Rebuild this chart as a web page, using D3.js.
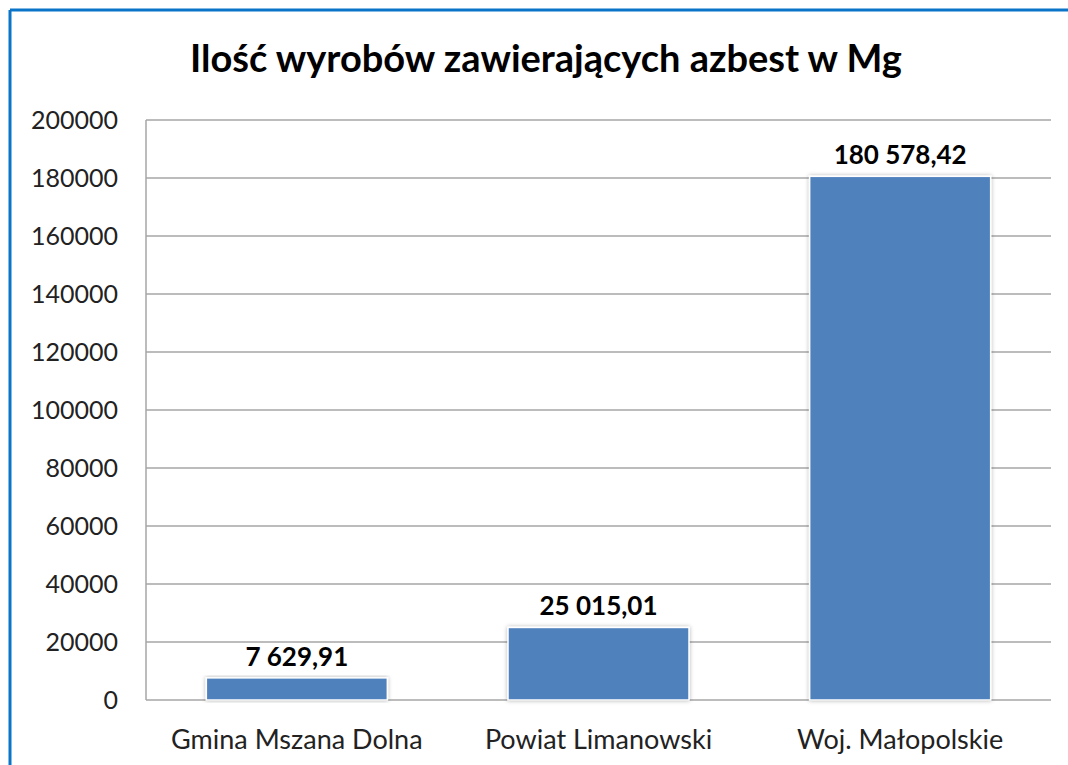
<!DOCTYPE html>
<html>
<head>
<meta charset="utf-8">
<script src="https://cdn.jsdelivr.net/npm/d3@7"></script>
<style>
  body { margin: 0; background: #fff; }
  svg { display: block; }
</style>
</head>
<body>
<div id="container"></div>
<script>
var categories = ["Gmina Mszana Dolna", "Powiat Limanowski", "Woj. Małopolskie"];
var values = [7629.91, 25015.01, 180578.42];
var yTicks = [0, 20000, 40000, 60000, 80000, 100000, 120000, 140000, 160000, 180000, 200000];
var title = "Ilość wyrobów zawierających azbest w Mg";

var W = 1068, H = 765;
var plotLeft = 146, plotRight = 1051, plotTop = 120, plotBottom = 700;
var font = "Lato, 'Open Sans', sans-serif";

var pl = d3.formatLocale({decimal: ",", thousands: " ", grouping: [3], currency: ["", ""]});
var fmt = pl.format(",.2f");

var svg = d3.select("#container").append("svg")
  .attr("width", W)
  .attr("height", H);

var defs = svg.append("defs");
var f = defs.append("filter").attr("id", "shadow")
  .attr("x", "-10%").attr("y", "-10%").attr("width", "120%").attr("height", "120%");
f.append("feDropShadow").attr("dx", 0).attr("dy", 0).attr("stdDeviation", 2.2)
  .attr("flood-color", "#000").attr("flood-opacity", 0.3);

// frame (top and left blue lines)
svg.append("line").attr("x1", 10).attr("x2", W).attr("y1", 10).attr("y2", 10)
  .attr("stroke", "#0a74c9").attr("stroke-width", 3);
svg.append("line").attr("x1", 10).attr("x2", 10).attr("y1", 10).attr("y2", H)
  .attr("stroke", "#0a74c9").attr("stroke-width", 3);

var x = d3.scaleBand()
  .domain(categories)
  .range([plotLeft, plotRight])
  .paddingInner(0.4)
  .paddingOuter(0.2);

var y = d3.scaleLinear()
  .domain([0, 200000])
  .range([plotBottom, plotTop]);

// gridlines
svg.append("g").selectAll("line")
  .data(yTicks)
  .enter().append("line")
  .attr("x1", plotLeft).attr("x2", plotRight)
  .attr("y1", d => y(d)).attr("y2", d => y(d))
  .attr("stroke", "#a6a6a6").attr("stroke-width", 1.5);

svg.append("line")
  .attr("x1", plotLeft).attr("x2", plotLeft)
  .attr("y1", plotTop).attr("y2", plotBottom)
  .attr("stroke", "#a6a6a6").attr("stroke-width", 1.5);

var yAxis = d3.axisLeft(y).tickValues(yTicks).tickFormat(d3.format("d")).tickSize(0).tickPadding(28);
var gy = svg.append("g").attr("transform", "translate(" + plotLeft + ",0)").call(yAxis);
gy.select(".domain").remove();
gy.selectAll("text").attr("font-family", font).attr("font-size", 25).attr("fill", "#222");

var xAxis = d3.axisBottom(x).tickSize(0).tickPadding(30);
var gx = svg.append("g").attr("transform", "translate(0," + plotBottom + ")").call(xAxis);
gx.select(".domain").remove();
gx.selectAll("text").attr("font-family", font).attr("font-size", 27).attr("fill", "#222");

// bars
svg.append("g").selectAll("rect")
  .data(values)
  .enter().append("rect")
  .attr("x", (d, i) => x(categories[i]))
  .attr("y", d => y(d))
  .attr("width", x.bandwidth())
  .attr("height", d => plotBottom - y(d))
  .attr("fill", "#4f81bd")
  .attr("stroke", "#fff")
  .attr("stroke-width", 1.5)
  .attr("filter", "url(#shadow)");

// data labels
svg.append("g").selectAll("text")
  .data(values)
  .enter().append("text")
  .attr("x", (d, i) => x(categories[i]) + x.bandwidth() / 2)
  .attr("y", d => y(d) - 12)
  .attr("text-anchor", "middle")
  .attr("font-family", font)
  .attr("font-weight", "bold")
  .attr("font-size", 26)
  .attr("fill", "#000")
  .text(d => fmt(d));

svg.append("text")
  .attr("x", 546)
  .attr("y", 72)
  .attr("text-anchor", "middle")
  .attr("font-family", font)
  .attr("font-weight", "bold")
  .attr("font-size", 38)
  .attr("fill", "#000")
  .text(title);
</script>
</body>
</html>
